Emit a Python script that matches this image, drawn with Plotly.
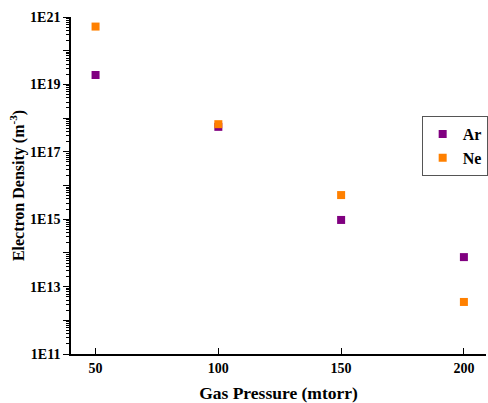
import plotly.graph_objects as go

pressure = [50, 100, 150, 200]
ar_density = [1.9e19, 5.5e17, 9.5e14, 7.5e13]
ne_density = [5.2e20, 6.6e17, 5.2e15, 3.5e12]
y_tickvals = [1e11, 1e12, 1e13, 1e14, 1e15, 1e16, 1e17, 1e18, 1e19, 1e20, 1e21]
y_ticktext = ["1E11", "", "1E13", "", "1E15", "", "1E17", "", "1E19", "", "1E21"]
x_tickvals = [50, 100, 150, 200]
y_minor = [m * 10.0 ** e for e in range(11, 21) for m in range(2, 10)]

font_family = "Liberation Serif"

fig = go.Figure()
fig.add_trace(go.Scatter(x=pressure, y=ar_density, mode="markers", name="Ar",
                         marker=dict(symbol="square", size=8, color="#800080")))
fig.add_trace(go.Scatter(x=pressure, y=ne_density, mode="markers", name="Ne",
                         marker=dict(symbol="square", size=8, color="#FF8000")))

fig.update_layout(
    width=488, height=403,
    margin=dict(l=71, r=0, t=17, b=49),
    paper_bgcolor="white", plot_bgcolor="white",
    font=dict(family=font_family, color="black"),
    showlegend=True,
    legend=dict(x=0.845, y=0.706, xanchor="left", yanchor="top",
                bordercolor="#555555", borderwidth=1, bgcolor="white",
                font=dict(family=font_family, size=16, color="black", weight="bold"),
                itemwidth=30, tracegroupgap=0),
    xaxis=dict(range=[40, 209], tickvals=x_tickvals, ticks="inside", ticklen=6,
               tickwidth=1, tickcolor="black", showline=True, linecolor="black",
               linewidth=1.5, showgrid=False, zeroline=False,
               tickfont=dict(family=font_family, size=14, weight="bold"),
               title=dict(text="<b>Gas Pressure (mtorr)</b>", standoff=12,
                          font=dict(family=font_family, size=17.5))),
    yaxis=dict(type="log", range=[11, 21], tickvals=y_tickvals, ticktext=y_ticktext,
               ticks="outside", ticklen=6, tickwidth=1, tickcolor="black",
               minor=dict(ticks="outside", ticklen=3, tickcolor="black",
                          tickmode="array", tickvals=y_minor),
               showline=True, linecolor="black", linewidth=1.5, showgrid=False,
               zeroline=False,
               tickfont=dict(family=font_family, size=14, weight="bold"),
               title=dict(text="<b>Electron Density (m<sup>-3</sup>)</b>", standoff=2,
                          font=dict(family=font_family, size=16))),
)

fig.write_html("out.html", config={"displayModeBar": False},
               post_script="document.body.style.margin='0';document.body.style.overflow='hidden';")
